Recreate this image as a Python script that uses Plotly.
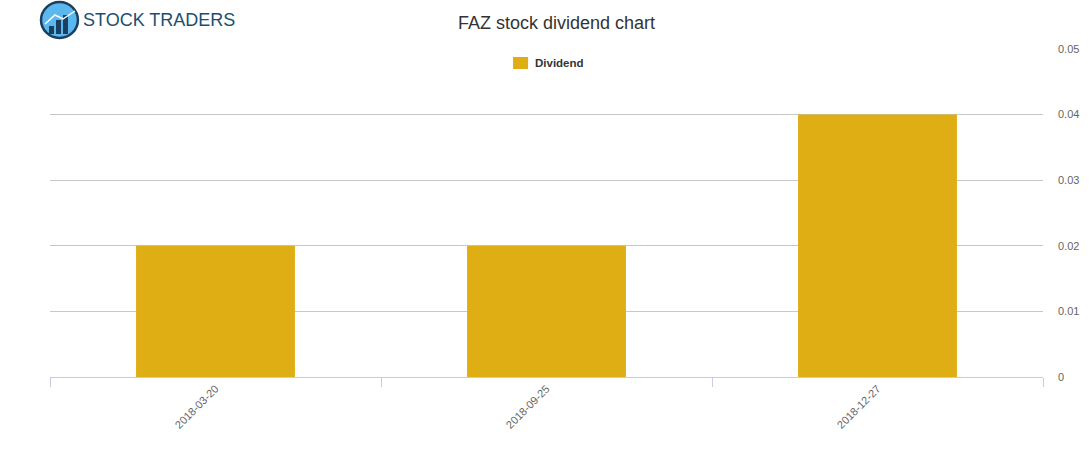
import plotly.graph_objects as go

dates = ["2018-03-20", "2018-09-25", "2018-12-27"]
dividends = [0.02, 0.02, 0.04]
y_ticks = [0, 0.01, 0.02, 0.03, 0.04, 0.05]
y_labels = ["0", "0.01", "0.02", "0.03", "0.04", "0.05"]
series_name = "Dividend"

L, R, T, B = 50, 46, 49, 73
W, H = 1091, 450
pw, ph = W - L - R, H - T - B

def px(x):
    return (x - L) / pw

def py(y):
    return (H - B - y) / ph

BAR_COLOR = "#DFAD14"

fig = go.Figure()
fig.add_trace(go.Bar(
    x=dates, y=dividends, name=series_name,
    marker=dict(color=BAR_COLOR, line=dict(width=0)),
    width=0.48, showlegend=False,
))

fig.update_layout(
    width=W, height=H,
    margin=dict(l=L, r=R, t=T, b=B),
    plot_bgcolor="white", paper_bgcolor="white",
    font=dict(family="Liberation Sans, Arial, sans-serif", color="#555555"),
    title=dict(text="FAZ stock dividend chart", x=556.5 / W, xanchor="center",
               y=1 - 23 / H, yanchor="middle",
               font=dict(size=18, color="#333333")),
    showlegend=False,
    xaxis=dict(type="category", showgrid=False, showline=True, linecolor="#C0D0E0",
               linewidth=1, ticks="outside", tickson="boundaries", ticklen=9,
               tickcolor="#C0D0E0", tickangle=-45,
               tickfont=dict(size=11, color="#666666"), zeroline=False),
    yaxis=dict(side="right", range=[0, 0.05], tickvals=y_ticks, ticktext=y_labels,
               showgrid=True, gridcolor="#C8C8C8", gridwidth=1, zeroline=False,
               showline=False, ticks="", ticklabelstandoff=14,
               tickfont=dict(size=11, color="#666666")),
    bargap=0.52,
)

# Legend (drawn manually to match swatch spacing)
fig.add_shape(type="rect", xref="paper", yref="paper",
              x0=px(514), x1=px(529), y0=py(69), y1=py(57),
              fillcolor=BAR_COLOR, line=dict(width=0))
fig.add_annotation(text="<b>" + series_name + "</b>", xref="paper", yref="paper",
                   x=px(534), y=py(63), xanchor="left", yanchor="middle",
                   showarrow=False, font=dict(size=11.5, color="#333333"))

# Logo
fig.add_shape(type="circle", xref="paper", yref="paper",
              x0=px(41), x1=px(78), y0=py(38), y1=py(2),
              fillcolor="#5BB8EE", line=dict(color="#1B3F5E", width=2.5), layer="above")
for bx0, bx1, top in [(49, 54, 26), (56, 61, 20), (63, 68, 15)]:
    fig.add_shape(type="rect", xref="paper", yref="paper",
                  x0=px(bx0), x1=px(bx1), y0=py(34), y1=py(top),
                  fillcolor="#1B3F5E", line=dict(width=0), layer="above")
fig.add_shape(type="path", xref="paper", yref="paper",
              path=f"M {px(45)},{py(24)} L {px(55)},{py(15)} L {px(63)},{py(19)} L {px(75)},{py(11)}",
              line=dict(color="white", width=1.5), layer="above")
fig.add_annotation(text="STOCK TRADERS", xref="paper", yref="paper",
                   x=px(81), y=py(20), xanchor="left", yanchor="middle",
                   showarrow=False, font=dict(size=18, color="#1B4F72",
                                              family="Liberation Sans, Arial, sans-serif"))

fig.write_html("out.html", config={"displayModeBar": False},
               post_script="document.body.style.margin='0';")
